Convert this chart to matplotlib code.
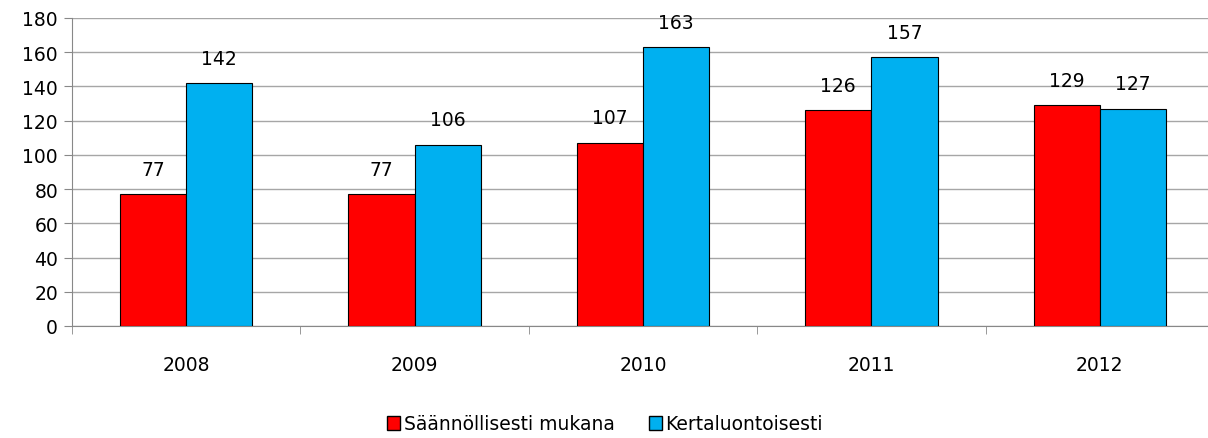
import numpy as np
import matplotlib
matplotlib.use("Agg")
import matplotlib.pyplot as plt
from matplotlib.patches import Patch

years = ["2008", "2009", "2010", "2011", "2012"]
saannollisesti = [77, 77, 107, 126, 129]
kertaluontoisesti = [142, 106, 163, 157, 127]
series_names = ["Säännöllisesti mukana", "Kertaluontoisesti"]

plt.rcParams["font.family"] = ["DejaVu Sans"]
fs = 13.5
fig = plt.figure(figsize=(12.08, 4.39), dpi=100)
ax = fig.add_axes([72 / 1208, 1 - 327 / 439, (1214 - 72) / 1208, (327 - 19) / 439])

x = np.arange(len(years))
w = 0.29
b1 = ax.bar(x - w / 2, saannollisesti, w, color="#FF0000", edgecolor="black", linewidth=0.8, zorder=3)
b2 = ax.bar(x + w / 2, kertaluontoisesti, w, color="#00B0F0", edgecolor="black", linewidth=0.8, zorder=3)

for bars in (b1, b2):
    for r in bars:
        ax.annotate(str(int(r.get_height())), (r.get_x() + r.get_width() / 2, r.get_height()),
                    xytext=(0, 18), textcoords="offset points", ha="center", va="center",
                    fontsize=fs, color="black")

ax.set_ylim(0, 180)
ax.set_yticks(range(0, 181, 20))
ax.set_xlim(-0.5, len(years) - 0.5)
ax.set_xticks(x)
ax.set_xticklabels(years)
ax.set_xticks(np.arange(-0.5, len(years), 1), minor=True)
ax.tick_params(axis="x", which="major", length=0, pad=21, labelsize=fs)
ax.tick_params(axis="x", which="minor", length=6, color="#888888", direction="out")
ax.tick_params(axis="y", length=6, color="#888888", labelsize=fs, pad=4)
ax.yaxis.grid(True, color="#A6A6A6", linewidth=1, zorder=0)
ax.set_axisbelow(True)
for s in ("top", "right"):
    ax.spines[s].set_visible(False)
for s in ("left", "bottom"):
    ax.spines[s].set_color("#888888")

handles = [Patch(facecolor="#FF0000", edgecolor="black"), Patch(facecolor="#00B0F0", edgecolor="black")]
fig.legend(handles, series_names, loc="center", bbox_to_anchor=(605 / 1208, 1 - 425 / 439),
           ncol=2, frameon=False, fontsize=fs, handlelength=0.7, handleheight=0.7,
           handletextpad=0.2, columnspacing=1.8)

fig.savefig("out.png", dpi=100)
